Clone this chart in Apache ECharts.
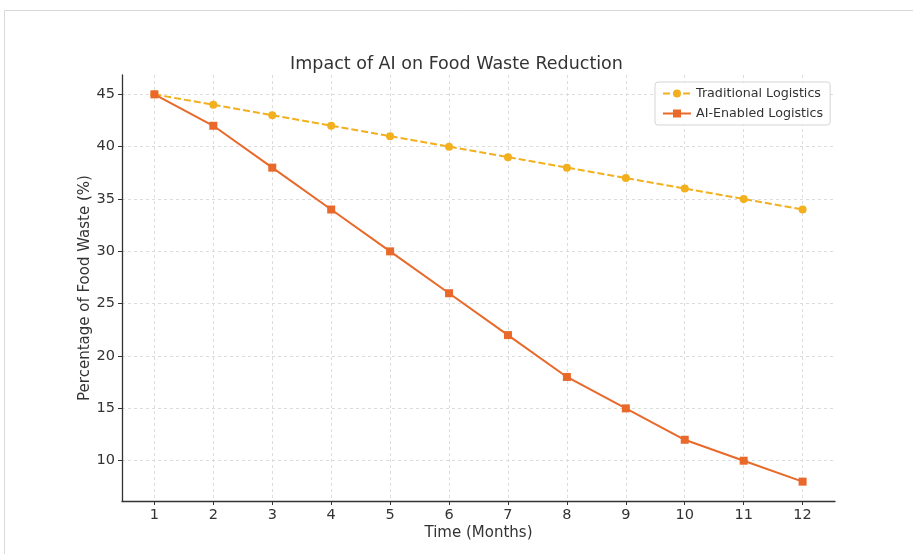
<!DOCTYPE html>
<html>
<head>
<meta charset="utf-8">
<script src="https://cdn.jsdelivr.net/npm/echarts@6/dist/echarts.min.js"></script>
<style>
  html, body { margin: 0; padding: 0; background: #fff; }
  #chart { width: 913px; height: 554px; }
</style>
</head>
<body>
<div id="chart"></div>
<script>
// Monthly food-waste share for both logistics approaches
const months = [1, 2, 3, 4, 5, 6, 7, 8, 9, 10, 11, 12];
const traditional = [45, 44, 43, 42, 41, 40, 39, 38, 37, 36, 35, 34];
const aiEnabled = [45, 42, 38, 34, 30, 26, 22, 18, 15, 12, 10, 8];
const yTicks = [10, 15, 20, 25, 30, 35, 40, 45];

const FONT = 'DejaVu Sans';
const chart = echarts.init(document.getElementById('chart'), null, { renderer: 'canvas' });

const pairs = (ys) => months.map((m, i) => [m, ys[i]]);

chart.setOption({
  backgroundColor: '#fff',
  animation: false,
  textStyle: { fontFamily: FONT },
  graphic: [
    { type: 'polyline', silent: true,
      shape: { points: [[4.5, 554], [4.5, 10.5], [913, 10.5]] },
      style: { stroke: '#d9d9d9', lineWidth: 1, fill: null } }
  ],
  title: {
    text: 'Impact of AI on Food Waste Reduction',
    left: 'center', top: 50,
    textStyle: { fontFamily: FONT, fontSize: 17.5, fontWeight: 'normal', color: '#333' }
  },
  legend: {
    left: 655, top: 82,
    orient: 'vertical',
    padding: [5, 7, 5, 7],
    itemGap: 7,
    itemWidth: 28, itemHeight: 10,
    backgroundColor: 'rgba(255,255,255,0.85)',
    borderColor: '#d5d5d5', borderWidth: 1, borderRadius: 3,
    textStyle: { fontFamily: FONT, fontSize: 12.7, color: '#333' },
    data: ['Traditional Logistics', 'AI-Enabled Logistics']
  },
  grid: { left: 122, right: 78, top: 75, bottom: 53, containLabel: false },
  xAxis: {
    type: 'value', min: 0.45, max: 12.55,
    name: 'Time (Months)', nameLocation: 'middle', nameGap: 25,
    nameMoveOverlap: false,
    nameTextStyle: { fontFamily: FONT, fontSize: 15, color: '#333' },
    axisLine: { show: true, lineStyle: { color: '#333', width: 1.3 } },
    axisTick: { show: true, length: 4, customValues: months, lineStyle: { color: '#333' } },
    axisLabel: { customValues: months, fontFamily: FONT, fontSize: 14.5, color: '#333', margin: 7 },
    splitLine: { show: true, lineStyle: { color: '#dcdcdc', type: [3, 3], width: 1 } }
  },
  yAxis: {
    type: 'value', min: 6.15, max: 46.85,
    name: 'Percentage of Food Waste (%)', nameLocation: 'middle', nameGap: 29,
    nameMoveOverlap: false,
    nameTextStyle: { fontFamily: FONT, fontSize: 15, color: '#333' },
    axisLine: { show: true, lineStyle: { color: '#333', width: 1.3 } },
    axisTick: { show: true, length: 4, customValues: yTicks, lineStyle: { color: '#333' } },
    axisLabel: { customValues: yTicks, fontFamily: FONT, fontSize: 14.5, color: '#333', margin: 7 },
    splitLine: { show: true, lineStyle: { color: '#dcdcdc', type: [3, 3], width: 1 } }
  },
  series: [
    {
      name: 'Traditional Logistics', type: 'line',
      data: pairs(traditional),
      symbol: 'circle', symbolSize: 8,
      itemStyle: { color: '#f2b01e' },
      lineStyle: { color: '#f2b01e', width: 2, type: [7, 3] },
      z: 3
    },
    {
      name: 'AI-Enabled Logistics', type: 'line',
      data: pairs(aiEnabled),
      symbol: 'rect', symbolSize: 8,
      itemStyle: { color: '#e8692a' },
      lineStyle: { color: '#e8692a', width: 2 },
      z: 4
    }
  ]
});
</script>
</body>
</html>
